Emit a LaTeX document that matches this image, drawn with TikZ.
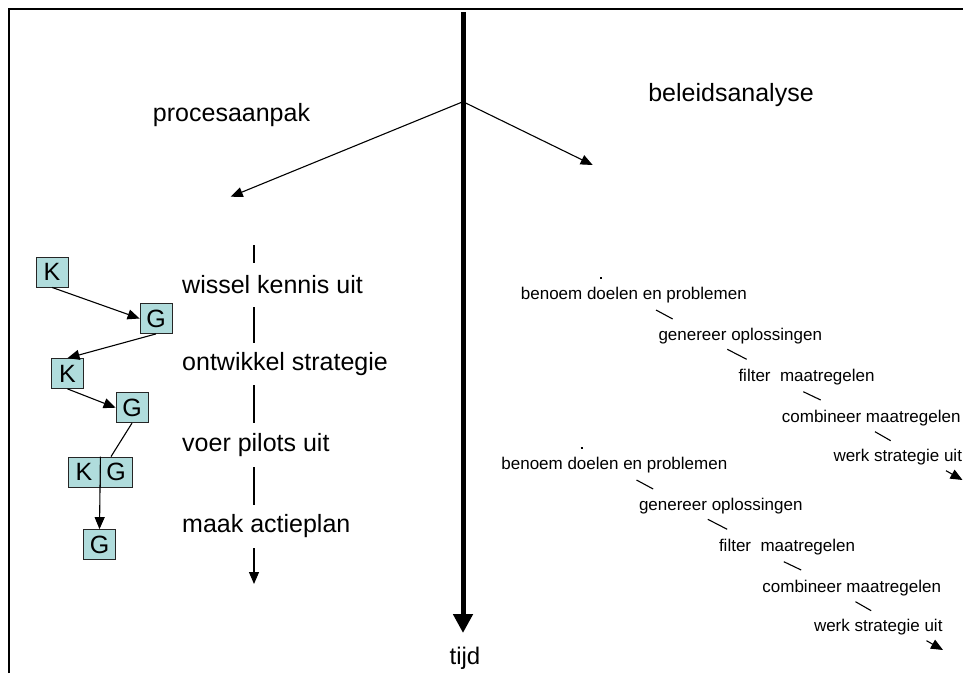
\documentclass[tikz,border=0pt]{standalone}
\usepackage{fontspec}
\setmainfont{Liberation Sans}
\usetikzlibrary{arrows.meta,calc}
\definecolor{boxfill}{RGB}{176,220,220}
\newcommand\beleidblok[1]{%
  \coordinate (#1d1) at (600,278);
  \coordinate (#1d2) at (602,278);
  \draw[conn] (#1d1) -- (#1d2);
  \node[small] (#1a) at (520.7,295) {benoem doelen en problemen};
  \node[small] (#1b) at (658.3,336) {genereer oplossingen};
  \node[small] (#1c) at (738.3,377.3) {filter~~maatregelen};
  \node[small] (#1e) at (781.7,418.3) {combineer maatregelen};
  \node[small] (#1f) at (833.3,456.7) {werk strategie uit};
  \coordinate (#1s1a) at (656,310);   \coordinate (#1s1b) at (672.7,319);
  \coordinate (#1s2a) at (727.3,349.3); \coordinate (#1s2b) at (746.7,359.3);
  \coordinate (#1s3a) at (803.3,391.7); \coordinate (#1s3b) at (820.7,400);
  \coordinate (#1s4a) at (875,431.7);  \coordinate (#1s4b) at (890.7,440.7);
  \coordinate (#1s5a) at (946,470.7);  \coordinate (#1s5b) at (962.5,480);
  \draw[conn] (#1s1a) -- (#1s1b);
  \draw[conn] (#1s2a) -- (#1s2b);
  \draw[conn] (#1s3a) -- (#1s3b);
  \draw[conn] (#1s4a) -- (#1s4b);
  \draw[conn,tri] (#1s5a) -- (#1s5b);
}
\begin{document}
\begin{tikzpicture}[x=1pt,y=-1pt,
  big/.style={font=\fontsize{25}{30}\selectfont, inner sep=0pt},
  small/.style={font=\fontsize{17}{20}\selectfont, inner sep=0pt, anchor=west},
  kg/.style={draw=black!85, line width=0.8pt, fill=boxfill, minimum width=32pt,
    minimum height=30pt, inner sep=0pt, font=\fontsize{25}{30}\selectfont},
  conn/.style={line width=1.1pt},
  tri/.style={-{Triangle[length=12pt,width=10pt]}},
  stepnode/.style={big, anchor=west}]
\useasboundingbox (0,0) rectangle (963,673);
\fill[white] (0,0) rectangle (963,673);
% frame
\coordinate (fb) at (9,673);
\coordinate (fc) at (9,9);
\coordinate (fr) at (963,9);
\draw[line width=2.2pt] (fb) -- (fc) -- (fr);
% time axis
\coordinate (ttop) at (463,12);
\coordinate (tbot) at (463,633);
\draw[line width=5pt, -{Triangle[length=19pt,width=19pt]}] (ttop) -- (tbot);
\node[big, font=\fontsize{24}{28}\selectfont] (tijd) at (465,658) {tijd};
% branches
\coordinate (org) at (463,101.7);
\coordinate (ltip) at (230.7,196.7);
\coordinate (rtip) at (592.7,165);
\draw[conn,tri] (org) -- (ltip);
\draw[conn,tri] (org) -- (rtip);
\node[big] (proc) at (231.5,115) {procesaanpak};
\node[big] (bel) at (731,95) {beleidsanalyse};
% left column steps
\coordinate (ctop) at (254,245);
\coordinate (cend) at (254,584);
\node[stepnode, minimum height=44pt] (s1) at (182,285) {wissel kennis uit};
\node[stepnode, minimum height=42pt] (s2) at (182,364) {ontwikkel strategie};
\node[stepnode, minimum height=44pt] (s3) at (182,445) {voer pilots uit};
\node[stepnode, minimum height=43pt] (s4) at (182,526.5) {maak actieplan};
\draw[conn] (ctop) -- (s1.north -| ctop);
\draw[conn] (s1.south -| ctop) -- (s2.north -| ctop);
\draw[conn] (s2.south -| ctop) -- (s3.north -| ctop);
\draw[conn] (s3.south -| ctop) -- (s4.north -| ctop);
\draw[conn,tri] (s4.south -| ctop) -- (cend);
% K / G boxes
\node[kg] (k1) at (52,272) {K};
\node[kg] (g1) at (156,318.5) {G};
\node[kg] (k2) at (67.5,373.5) {K};
\node[kg] (g2) at (132,407.7) {G};
\node[kg] (k3) at (84,472) {K};
\node[kg] (g3) at (116,472) {G};
\node[kg] (g4) at (99.5,544.5) {G};
\draw[conn,tri] (k1.south) -- (g1.west);
\draw[conn,tri] (g1.south) -- (k2.north);
\draw[conn,tri] (k2.south) -- (g2.west);
\draw[conn] (g2.south) -- ([xshift=-5pt]g3.north);
\draw[conn,tri] (k3.north east) -- (g4.north);
% right blocks
\beleidblok{p}
\begin{scope}[shift={(-19.5,170)}]
\beleidblok{q}
\end{scope}
\end{tikzpicture}
\end{document}
